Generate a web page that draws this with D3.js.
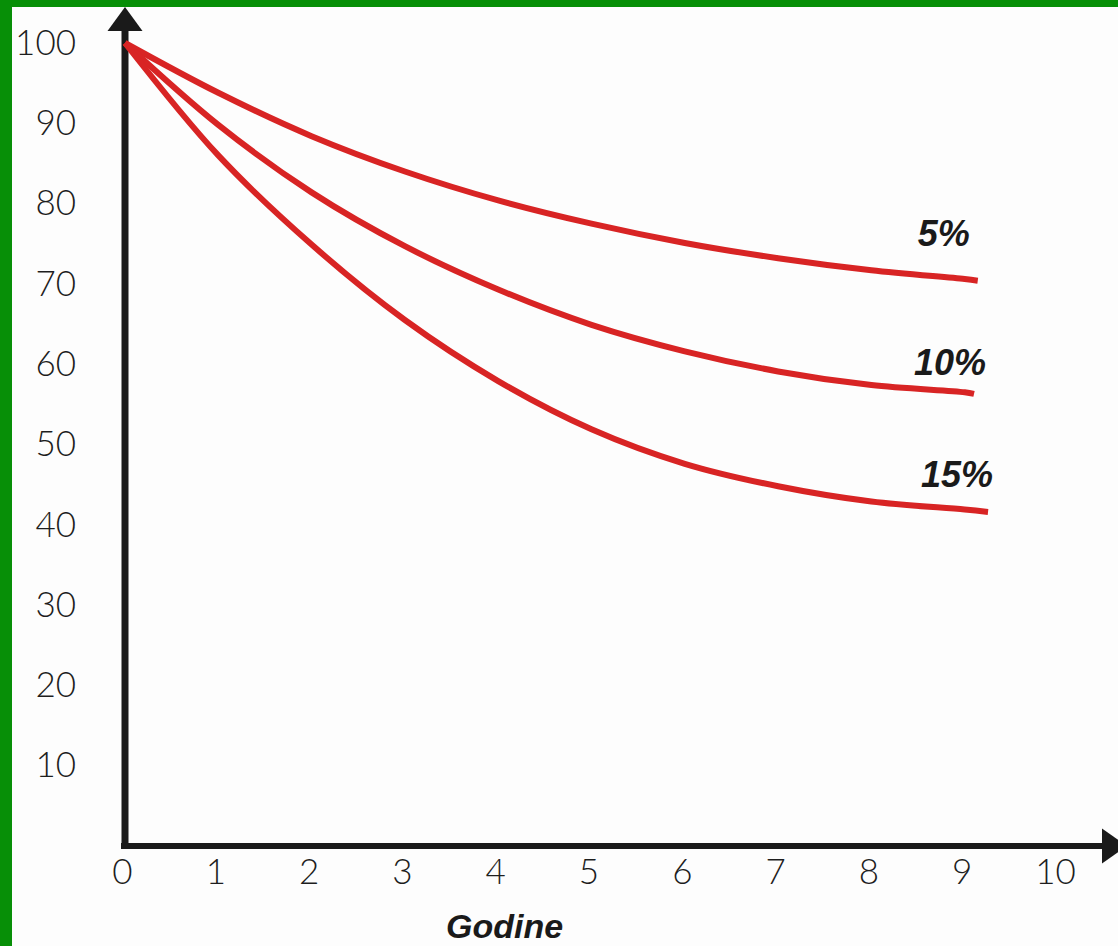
<!DOCTYPE html>
<html>
<head>
<meta charset="utf-8">
<title>Godine</title>
<script src="https://d3js.org/d3.v7.min.js"></script>
<style>
  html, body { margin: 0; padding: 0; background: #fdfdfd; }
  svg { display: block; }
</style>
</head>
<body>
<div id="chart"></div>
<script>
  var width = 1118;
  var height = 946;

  // values
  var years = [0, 1, 2, 3, 4, 5, 6, 7, 8, 9];
  var values5 = [100, 93.8, 88.4, 84.0, 80.4, 77.5, 75.1, 73.2, 71.7, 70.6];
  var values10 = [100, 89.8, 81.4, 74.7, 69.3, 64.9, 61.6, 59.1, 57.4, 56.5];
  var values15 = [100, 86.0, 74.9, 65.5, 57.9, 51.9, 47.6, 44.8, 42.9, 41.9];
  var endYears = [9.14, 9.1, 9.25];
  var endValues = [70.4, 56.3, 41.6];
  var seriesNames = ["5%", "10%", "15%"];
  var xTicks = [0, 1, 2, 3, 4, 5, 6, 7, 8, 9, 10];
  var yTicks = [10, 20, 30, 40, 50, 60, 70, 80, 90, 100];
  var xTitle = "Godine";

  var x = d3.scaleLinear().domain([0, 10]).range([125, 1058]);
  var y = d3.scaleLinear().domain([0, 100]).range([846, 43]);

  var svg = d3.select("#chart").append("svg")
      .attr("width", width)
      .attr("height", height);

  svg.append("rect").attr("width", width).attr("height", height).attr("fill", "#fdfdfd");

  // green frame of the slide
  svg.append("rect").attr("x", 0).attr("y", 0).attr("width", 12).attr("height", height).attr("fill", "#078f07");
  svg.append("rect").attr("x", 0).attr("y", 0).attr("width", width).attr("height", 7).attr("fill", "#078f07");

  var series = seriesNames.map(function(name, i) {
    var vals = [values5, values10, values15][i];
    var pts = years.map(function(yr, j) { return [yr, vals[j]]; });
    pts.push([endYears[i], endValues[i]]);
    return {name: name, points: pts};
  });

  // axes
  var yAxis = d3.axisLeft(y).tickValues(yTicks).tickSize(0).tickPadding(49);
  var gy = svg.append("g").attr("transform", "translate(" + x(0) + ",0)").call(yAxis);
  gy.select(".domain").remove();
  gy.selectAll("text")
      .attr("font-family", "Lato, 'Open Sans', sans-serif")
      .attr("font-weight", 300)
      .attr("font-size", 35)
      .attr("fill", "#1e1e1e");

  var xAxis = d3.axisBottom(x).tickValues(xTicks).tickSize(0).tickFormat(d3.format("d"));
  var gx = svg.append("g").attr("transform", "translate(0," + y(0) + ")").call(xAxis);
  gx.select(".domain").remove();
  gx.selectAll("text")
      .attr("y", 26)
      .attr("dy", "0.35em")
      .attr("transform", "translate(-3,0)")
      .attr("font-family", "Lato, 'Open Sans', sans-serif")
      .attr("font-weight", 300)
      .attr("font-size", 35)
      .attr("fill", "#1e1e1e");

  // axis lines with arrows
  svg.append("line")
      .attr("x1", x(0)).attr("x2", x(0))
      .attr("y1", y(0) + 3).attr("y2", 28)
      .attr("stroke", "#1a1a1a").attr("stroke-width", 7);
  svg.append("path")
      .attr("d", "M" + x(0) + ",7L" + (x(0) + 17.5) + ",31L" + (x(0) - 17.5) + ",31Z")
      .attr("fill", "#1a1a1a");

  svg.append("line")
      .attr("x1", x(0) - 4).attr("x2", 1105)
      .attr("y1", y(0)).attr("y2", y(0))
      .attr("stroke", "#1a1a1a").attr("stroke-width", 6);
  svg.append("path")
      .attr("d", "M1102," + (y(0) - 17.5) + "L1127," + y(0) + "L1102," + (y(0) + 17.5) + "Z")
      .attr("fill", "#1a1a1a");

  // curves
  var line = d3.line()
      .x(function(d) { return x(d[0]); })
      .y(function(d) { return y(d[1]); })
      .curve(d3.curveCatmullRom.alpha(0.5));

  svg.selectAll(".curve")
      .data(series)
      .enter().append("path")
      .attr("class", "curve")
      .attr("d", function(d) { return line(d.points); })
      .attr("fill", "none")
      .attr("stroke", "#d82424")
      .attr("stroke-width", 6);

  // curve labels, offset from the curve ends
  var labelOffset = [[-8, -35], [12, -19], [5, -25]];
  svg.selectAll(".lbl")
      .data(series)
      .enter().append("text")
      .attr("class", "lbl")
      .attr("x", function(d, i) { return x(endYears[i]) + labelOffset[i][0]; })
      .attr("y", function(d, i) { return y(endValues[i]) + labelOffset[i][1]; })
      .attr("text-anchor", "end")
      .attr("font-family", "'Liberation Sans', Arial, sans-serif")
      .attr("font-weight", "bold")
      .attr("font-style", "italic")
      .attr("font-size", 36)
      .attr("fill", "#1a1a1a")
      .text(function(d) { return d.name; });

  svg.append("text")
      .attr("x", 446)
      .attr("y", 938)
      .attr("font-family", "'Liberation Sans', Arial, sans-serif")
      .attr("font-weight", "bold")
      .attr("font-style", "italic")
      .attr("font-size", 34)
      .attr("fill", "#1a1a1a")
      .text(xTitle);
</script>
</body>
</html>
